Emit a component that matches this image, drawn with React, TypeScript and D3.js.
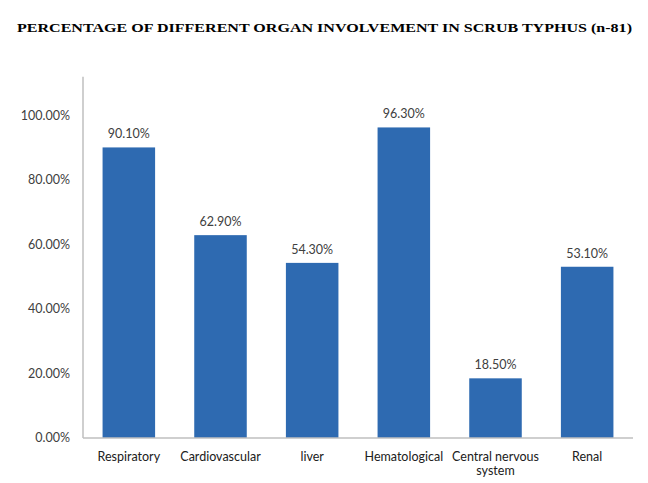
import React from "react";
import * as d3 from "d3";

const categories: string[][] = [
  ["Respiratory"],
  ["Cardiovascular"],
  ["liver"],
  ["Hematological"],
  ["Central nervous", "system"],
  ["Renal"],
];
const values: number[] = [0.901, 0.629, 0.543, 0.963, 0.185, 0.531];
const yTicks: number[] = [0, 0.2, 0.4, 0.6, 0.8, 1.0];
const title = "PERCENTAGE OF DIFFERENT ORGAN INVOLVEMENT IN SCRUB TYPHUS (n-81)";

export default function App() {
  const W = 648, H = 483;
  const left = 83, right = 633, bottom = 438;
  const yMax = 1.12;
  const y = d3.scaleLinear().domain([0, yMax]).range([bottom, bottom - yMax * 322.5]);
  const keys = categories.map((c) => c.join(" "));
  const x = d3.scaleBand<string>().domain(keys).range([left, right]).paddingInner(0.427).paddingOuter(0.2135);
  const fmt = d3.format(".2%");
  const font = "Lato, 'Open Sans', sans-serif";
  return (
    <svg width={W} height={H} style={{ position: "absolute", left: 0, top: 0, background: "#fff" }}>
      <text x={17} y={32} fontFamily="'Liberation Serif', 'Times New Roman', serif" fontWeight="bold" fontSize={13.5} fill="#000" textLength={615} lengthAdjust="spacingAndGlyphs">
        {title}
      </text>
      {yTicks.map((t) => (
        <text key={t} x={70} y={y(t)} dy="0.35em" textAnchor="end" fontFamily={font} fontSize={12.5} fill="#404040">
          {fmt(t)}
        </text>
      ))}
      {values.map((v, i) => {
        const k = keys[i];
        const bx = x(k)!;
        return (
          <g key={k}>
            <rect x={bx} y={y(v)} width={x.bandwidth()} height={y(0) - y(v)} fill="#2E6AB1" />
            <text x={bx + x.bandwidth() / 2} y={y(v) - 9} textAnchor="middle" fontFamily={font} fontSize={12.5} fill="#404040">
              {fmt(v)}
            </text>
            {categories[i].map((line, j) => (
              <text key={j} x={bx + x.bandwidth() / 2} y={461 + j * 13.5} textAnchor="middle" fontFamily={font} fontSize={12.5} fill="#202020">
                {line}
              </text>
            ))}
          </g>
        );
      })}
      <line x1={left} x2={left} y1={y(yMax)} y2={bottom} stroke="#BFBFBF" strokeWidth={1.5} />
      <line x1={left} x2={right} y1={bottom} y2={bottom} stroke="#BFBFBF" strokeWidth={1.5} />
    </svg>
  );
}
